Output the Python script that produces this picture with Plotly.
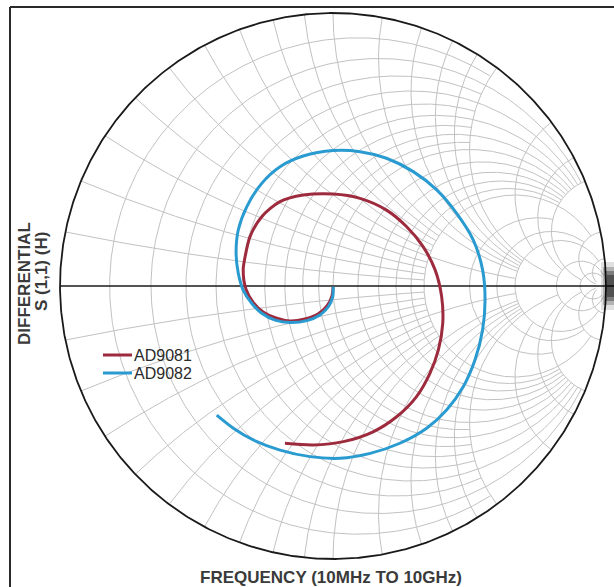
import numpy as np
import plotly.graph_objects as go

W, H = 614, 587

# ---- data: differential S(1,1), reflection coefficient (re, im)
ad9081_re = [0.000, -0.004, -0.022, -0.055, -0.103, -0.158, -0.209, -0.256, -0.293, -0.319,
             -0.329, -0.322, -0.304, -0.261, -0.194, -0.109, 0.001, 0.099, 0.196, 0.270,
             0.330, 0.374, 0.398, 0.402, 0.386, 0.355, 0.306, 0.233, 0.147, 0.038,
             -0.072, -0.176]
ad9081_im = [-0.004, -0.037, -0.073, -0.103, -0.121, -0.128, -0.117, -0.095, -0.059, -0.011,
             0.059, 0.107, 0.181, 0.254, 0.309, 0.333, 0.337, 0.321, 0.278, 0.217,
             0.144, 0.059, -0.039, -0.137, -0.234, -0.320, -0.405, -0.479, -0.534, -0.570,
             -0.582, -0.576]
ad9082_re = [0.001, -0.001, -0.017, -0.048, -0.096, -0.158, -0.212, -0.261, -0.298, -0.329,
             -0.347, -0.355, -0.347, -0.316, -0.261, -0.194, -0.109, 0.001, 0.099, 0.196,
             0.294, 0.380, 0.453, 0.514, 0.548, 0.557, 0.548, 0.520, 0.477, 0.416,
             0.343, 0.245, 0.136, 0.026, -0.084, -0.194, -0.292, -0.365, -0.426]
ad9082_im = [-0.003, -0.039, -0.076, -0.106, -0.127, -0.134, -0.125, -0.100, -0.063, -0.015,
             0.047, 0.120, 0.205, 0.290, 0.376, 0.437, 0.476, 0.496, 0.492, 0.468,
             0.419, 0.352, 0.266, 0.168, 0.059, -0.051, -0.161, -0.271, -0.369, -0.454,
             -0.521, -0.576, -0.613, -0.631, -0.625, -0.601, -0.564, -0.521, -0.473]

series_names = ["AD9081", "AD9082"]
series_colors = ["#9e2b3d", "#2a9bd0"]

# Smith grid: (value, extent) pairs
R_GRID = [(0.1, 2), (0.2, 5), (0.3, 2), (0.4, 5), (0.5, 2), (0.6, 5), (0.7, 2), (0.8, 5),
          (0.9, 2), (1.0, 5), (1.2, 5), (1.4, 5), (1.6, 5), (1.8, 5), (2.0, 10),
          (3.0, 5), (4.0, 10), (5.0, 20), (10.0, 50), (20.0, 50)]
X_GRID = [(0.1, 2), (0.2, 2), (0.3, 2), (0.4, 2), (0.5, 5), (0.6, 2), (0.7, 2), (0.8, 2),
          (0.9, 2), (1.0, 5), (1.2, 5), (1.4, 5), (1.6, 5), (1.8, 5), (2.0, 10),
          (3.0, 5), (4.0, 10), (5.0, 20), (10.0, 50), (20.0, 50)]

# pixel geometry of the chart circle
CX, CY, RAD = 333.0, 286.0, 273.0
x_range = [-CX / RAD, (W - CX) / RAD]
y_range = [-(H - CY) / RAD, CY / RAD]


def gam(z):
    return (z - 1) / (z + 1)


gx, gy = [], []
for r, xl in R_GRID:
    xs = np.sinh(np.linspace(-np.arcsinh(xl), np.arcsinh(xl), 500))
    g = gam(r + 1j * xs)
    gx += list(g.real) + [None]
    gy += list(g.imag) + [None]
for xv, rl in X_GRID:
    rs = np.sinh(np.linspace(0, np.arcsinh(rl), 500))
    for s in (1, -1):
        g = gam(rs + 1j * s * xv)
        gx += list(g.real) + [None]
        gy += list(g.imag) + [None]

fig = go.Figure()
fig.add_trace(go.Scatter(x=gx, y=gy, mode="lines", line=dict(color="#c2c2c2", width=1),
                         hoverinfo="skip", showlegend=False))

# real axis and outer circle
fig.add_trace(go.Scatter(x=[-1, x_range[1]], y=[0, 0], mode="lines",
                         line=dict(color="#1a1a1a", width=1.3), hoverinfo="skip", showlegend=False))
th = np.linspace(0, 2 * np.pi, 721)
fig.add_trace(go.Scatter(x=np.cos(th), y=np.sin(th), mode="lines",
                         line=dict(color="#1a1a1a", width=1.8), hoverinfo="skip", showlegend=False))

for name, col, re_, im_ in zip(series_names, series_colors,
                                [ad9081_re, ad9082_re], [ad9081_im, ad9082_im]):
    fig.add_trace(go.Scatter(x=re_, y=im_, mode="lines", name=name,
                             line=dict(color=col, width=3, shape="spline", smoothing=0.8),
                             showlegend=False))


def px(x):
    return x / W


def py(y):
    return 1 - y / H


shapes = [
    dict(type="line", xref="paper", yref="paper", x0=px(10), x1=1, y0=py(7), y1=py(7),
         line=dict(color="#2a2a2a", width=2)),
    dict(type="line", xref="paper", yref="paper", x0=px(10), x1=px(10), y0=py(7), y1=0,
         line=dict(color="#2a2a2a", width=2)),
]
# soft dark smudge at the right end of the real axis
for (x0, y0, y1, op) in [(601, 262, 310, 0.12), (603, 267, 305, 0.2), (605, 271, 301, 0.3),
                         (607, 275, 297, 0.35)]:
    shapes.append(dict(type="rect", xref="paper", yref="paper", x0=px(x0), x1=1,
                       y0=py(y1), y1=py(y0), fillcolor="#000", opacity=op, line=dict(width=0)))

annotations = [
    dict(text="<b>FREQUENCY (10MHz TO 10GHz)</b>", xref="paper", yref="paper",
         x=px(331), y=py(577), showarrow=False, xanchor="center", yanchor="middle",
         font=dict(family="Liberation Sans, Arial", size=17, color="#3a3a3a")),
    dict(text="<b>DIFFERENTIAL</b>", xref="paper", yref="paper", textangle=-90,
         x=px(25), y=py(284), showarrow=False, xanchor="center", yanchor="middle",
         font=dict(family="Liberation Sans, Arial", size=17, color="#3a3a3a")),
    dict(text="<b>S (1,1) (H)</b>", xref="paper", yref="paper", textangle=-90,
         x=px(41), y=py(272), showarrow=False, xanchor="center", yanchor="middle",
         font=dict(family="Liberation Sans, Arial", size=17, color="#3a3a3a")),
]
for i, (name, col) in enumerate(zip(series_names, series_colors)):
    yy = 355 + 18 * i
    shapes.append(dict(type="line", xref="paper", yref="paper", x0=px(103), x1=px(132),
                       y0=py(yy), y1=py(yy), line=dict(color=col, width=3)))
    annotations.append(dict(text=name, xref="paper", yref="paper", x=px(132), y=py(yy),
                            showarrow=False, xanchor="left", yanchor="middle",
                            font=dict(family="Liberation Sans, Arial", size=16, color="#2a2a2a")))

fig.update_layout(
    width=W, height=H, autosize=False,
    margin=dict(l=0, r=0, t=0, b=0, pad=0),
    paper_bgcolor="white", plot_bgcolor="white",
    xaxis=dict(range=x_range, visible=False, fixedrange=True),
    yaxis=dict(range=y_range, visible=False, fixedrange=True),
    shapes=shapes, annotations=annotations,
)
fig.write_html("out.html")
